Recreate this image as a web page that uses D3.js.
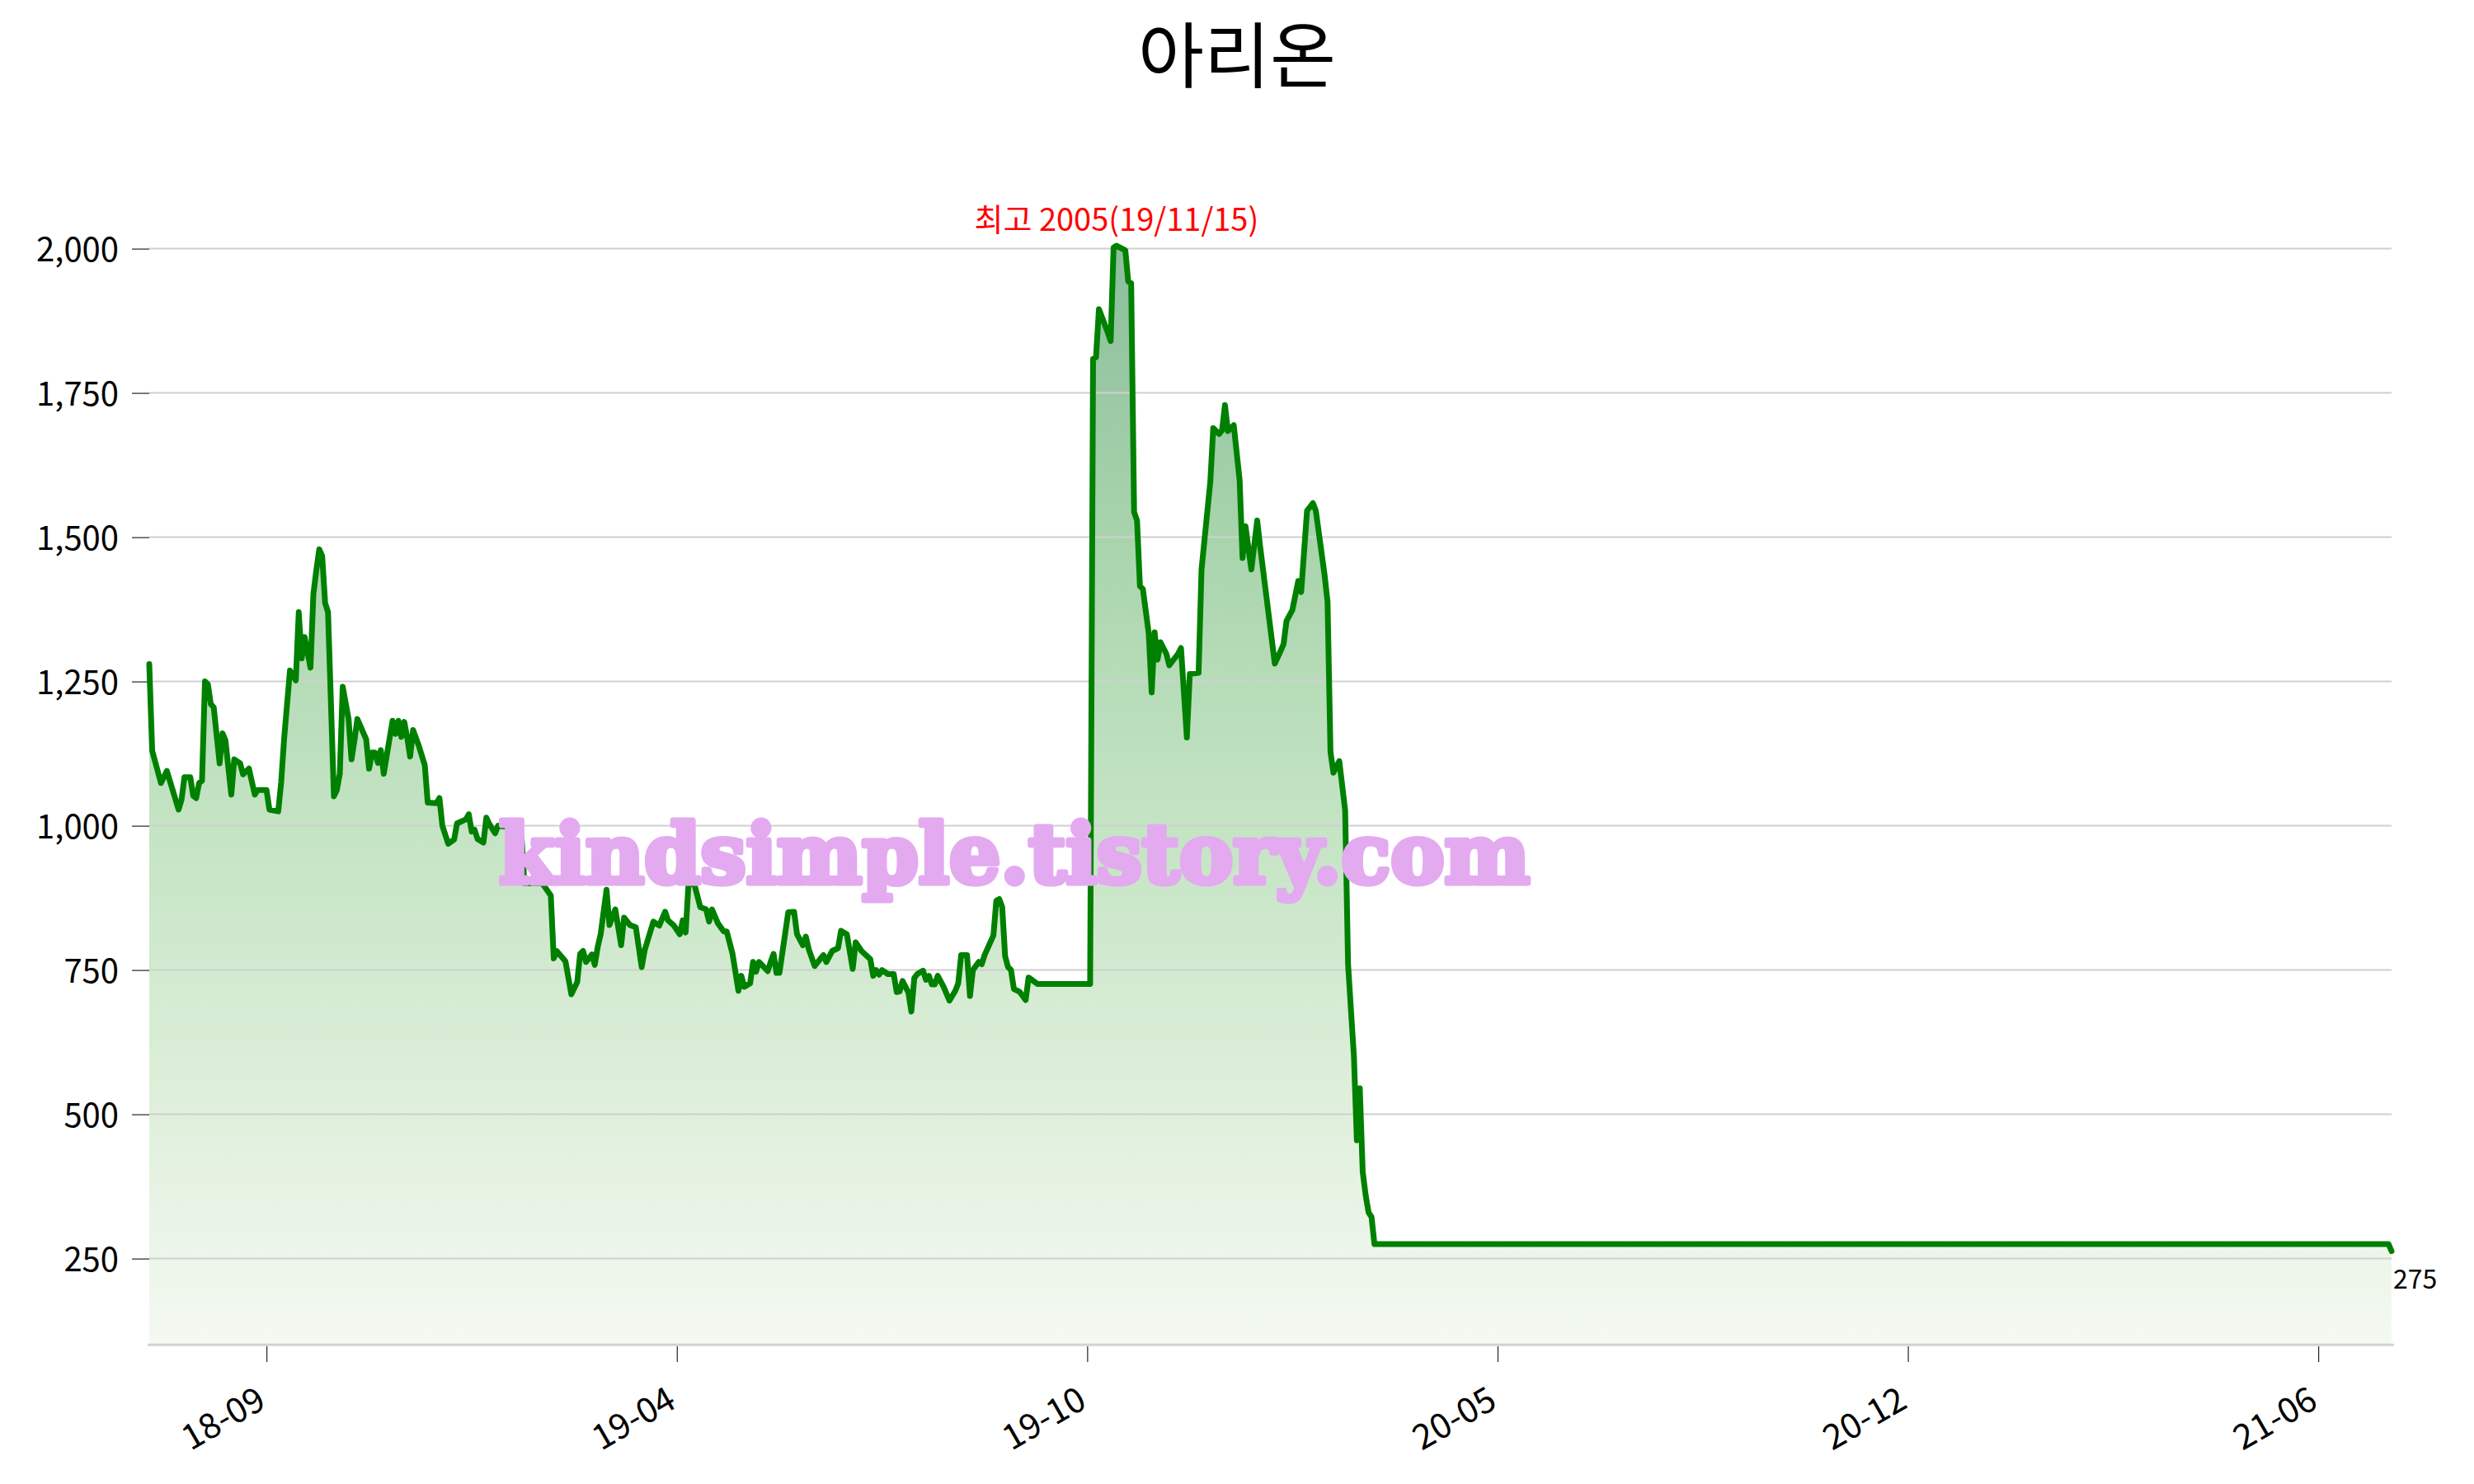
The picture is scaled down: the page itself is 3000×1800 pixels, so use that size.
<!DOCTYPE html>
<html><head><meta charset="utf-8">
<script src="https://cdn.jsdelivr.net/npm/d3@7"></script>
<style>
html,body{margin:0;padding:0;background:#fff;}
svg{display:block;}
</style></head><body>
<svg id="chart" width="3000" height="1800"></svg>
<script>
const title = "아리온";
// trading-day index and closing price
const dayIdx = [0,1,4,6,10,11,12,14,15,16,17,18,19,20,21,22,24,25,26,27,28,29,31,32,34,36,37,40,41,44,45,46,48,50,51,52,53,55,56,57,58,59,60,61,63,64,65,66,68,69,70,71,74,75,76,77,78,79,80,81,83,84,85,86,87,88,89,90,92,94,95,98,99,100,102,104,105,108,109,110,111,112,114,115,116,118,119,124,127,128,134,137,138,139,142,144,146,147,148,149,151,152,153,154,156,157,159,161,162,164,166,168,169,172,174,176,177,179,181,182,183,184,185,186,188,190,191,192,194,196,197,199,201,202,203,205,206,207,208,209,211,212,213,214,215,218,220,221,223,224,225,227,230,231,233,235,236,238,240,241,243,246,247,248,249,250,252,254,255,256,257,259,260,261,262,264,265,266,267,268,269,271,273,275,276,277,279,280,281,283,284,285,288,289,290,291,292,293,294,295,297,299,300,303,321,322,323,324,327,328,329,330,333,334,335,336,337,338,339,341,342,343,344,345,347,348,351,352,354,355,358,359,362,363,365,366,367,368,370,372,373,374,376,378,379,384,386,387,388,390,392,393,395,397,398,401,402,403,404,406,408,409,411,412,413,414,415,416,417,418,764,765];
const price = [1280,1130,1074,1095,1028,1045,1084,1084,1052,1048,1074,1078,1250,1245,1211,1205,1108,1160,1148,1100,1054,1115,1108,1089,1099,1054,1062,1062,1028,1025,1075,1150,1269,1252,1370,1290,1327,1274,1402,1443,1479,1467,1386,1370,1051,1062,1090,1241,1185,1115,1148,1185,1150,1099,1127,1127,1109,1131,1090,1121,1182,1159,1182,1154,1180,1153,1120,1166,1138,1105,1040,1039,1048,1000,969,976,1004,1011,1020,990,993,977,971,1014,1003,987,1000,997,982,900,901,879,770,783,765,708,729,778,783,764,777,759,790,812,889,828,855,793,841,828,824,755,784,834,827,851,836,827,812,836,815,902,900,898,859,855,834,855,831,817,817,778,714,740,721,727,764,747,764,759,748,764,778,745,745,850,851,812,793,808,786,757,776,764,783,788,818,812,752,798,783,769,740,750,742,750,743,743,712,713,731,711,678,736,743,749,733,740,725,725,740,721,697,714,727,776,776,705,750,764,760,776,810,870,873,859,774,755,750,717,712,698,737,726,726,1809,1812,1895,1855,1840,2002,2005,1997,1943,1940,1544,1529,1415,1410,1333,1231,1335,1288,1318,1298,1278,1298,1308,1153,1263,1265,1444,1596,1689,1679,1685,1729,1684,1694,1599,1464,1519,1444,1529,1484,1281,1303,1315,1355,1374,1424,1405,1546,1559,1546,1434,1388,1128,1092,1112,1027,760,600,455,545,400,360,330,322,275,275,263];
const xTickIdx = [40,180,320,460,600,740];
const xTickLabels = ["18-09","19-04","19-10","20-05","20-12","21-06"];
const yTicks = [250,500,750,1000,1250,1500,1750,2000];
const maxDate = "19/11/15";
const currentPrice = 275;
const watermark = "kindsimple.tistory.com";

const FONT = '"Noto Sans CJK KR","Noto Sans",sans-serif';
const data = dayIdx.map((d,i)=>({i:d, v:price[i]}));
const svg = d3.select("#chart");

const x = d3.scaleLinear().domain([0,765]).range([181,2900]);
const y = d3.scaleLinear().domain([100,2100]).range([1631.6,231.6]);

// gradient
const maxV = d3.max(price);
const maxPt = data.find(d=>d.v===maxV);
const defs = svg.append("defs");
const grad = defs.append("linearGradient").attr("id","fillGrad")
  .attr("gradientUnits","userSpaceOnUse").attr("x1",0).attr("x2",0)
  .attr("y1",y(maxV)).attr("y2",y(100));
[[0,"rgb(139,190,156)"],[0.265,"rgb(168,212,172)"],[0.527,"rgb(196,228,196)"],[0.75,"rgb(220,238,216)"],[1,"rgb(244,249,242)"]]
 .forEach(s=>grad.append("stop").attr("offset",s[0]).attr("stop-color",s[1]));

// title
svg.append("text").attr("x",1500).attr("y",100).attr("text-anchor","middle")
  .attr("font-family",FONT).attr("font-size",87).attr("fill","#000").text(title);

// area
svg.append("path").datum(data)
  .attr("d", d3.area().x(d=>x(d.i)).y0(y(100)).y1(d=>y(d.v)))
  .attr("fill","url(#fillGrad)");

// grid
svg.append("g").selectAll("line").data(yTicks).join("line")
  .attr("x1",181).attr("x2",2900).attr("y1",d=>y(d)).attr("y2",d=>y(d))
  .attr("stroke","#d0d0d0").attr("stroke-width",2);

// y axis
const ya = svg.append("g").attr("transform","translate(181,0)")
  .call(d3.axisLeft(y).tickValues(yTicks).tickSize(21).tickPadding(16).tickFormat(d3.format(",")));
ya.select(".domain").remove();
ya.selectAll(".tick line").attr("stroke","#222").attr("stroke-width",1.2);
ya.selectAll(".tick text").attr("font-family",FONT).attr("font-size",40).attr("fill","#000").attr("dy","0.37em");

// x axis
svg.append("line").attr("x1",179).attr("x2",2903).attr("y1",1631.3).attr("y2",1631.3)
  .attr("stroke","#d3d3d3").attr("stroke-width",3);
const xa = svg.append("g").attr("transform","translate(0,1633)")
  .call(d3.axisBottom(x).tickValues(xTickIdx).tickSize(19).tickFormat((d,i)=>xTickLabels[i]));
xa.select(".domain").remove();
xa.selectAll(".tick line").attr("stroke","#222").attr("stroke-width",1.2);
xa.selectAll(".tick text").attr("font-family",FONT).attr("font-size",42).attr("fill","#000")
  .attr("y",0).attr("dy",0).attr("text-anchor","end").attr("transform","translate(1,73) rotate(-30)");

// line
svg.append("path").datum(data)
  .attr("d", d3.line().x(d=>x(d.i)).y(d=>y(d.v)))
  .attr("fill","none").attr("stroke","#008000").attr("stroke-width",7)
  .attr("stroke-linejoin","round").attr("stroke-linecap","round");

// max annotation
svg.append("text").attr("x",x(maxPt.i)).attr("y",y(maxPt.v)-18).attr("text-anchor","middle")
  .attr("font-family",FONT).attr("font-size",38).attr("fill","#ff0000")
  .text("최고 " + maxV + "(" + maxDate + ")");

// last label
const last = data[data.length-1];
svg.append("text").attr("x",x(last.i)+2).attr("y",y(last.v)+45)
  .attr("font-family",FONT).attr("font-size",32).attr("fill","#000").text(currentPrice);

// watermark
svg.append("text").attr("x",605).attr("y",1071)
  .attr("font-family",'"DejaVu Serif",serif').attr("font-weight","bold").attr("font-size",100)
  .attr("fill","#e3aaf0").attr("stroke","#e3aaf0").attr("stroke-width",7).attr("stroke-linejoin","round")
  .attr("textLength",1250).attr("lengthAdjust","spacingAndGlyphs").text(watermark);
</script>
</body></html>
